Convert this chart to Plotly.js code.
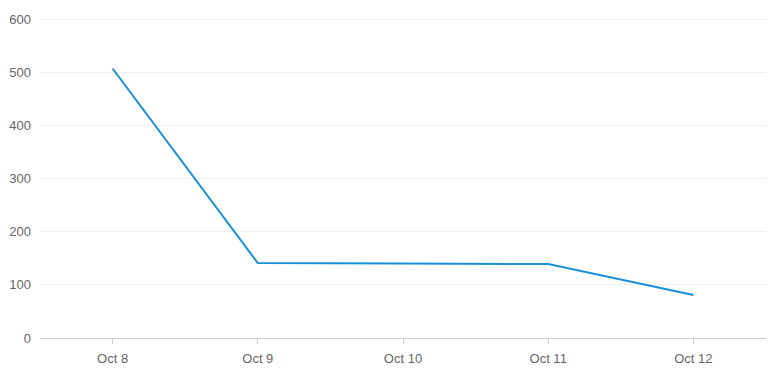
<!DOCTYPE html>
<html>
<head>
<meta charset="utf-8">
<script src="https://cdn.plot.ly/plotly-3.0.1.min.js"></script>
<style>html,body{margin:0;padding:0;background:#fff;}#chart{width:778px;height:386px;}</style>
</head>
<body>
<div id="chart"></div>
<script>
var categories = ["Oct 8", "Oct 9", "Oct 10", "Oct 11", "Oct 12"];
var values = [507, 141, 140, 139, 81];
var yTicks = [0, 100, 200, 300, 400, 500, 600];

Plotly.newPlot("chart", [{
  type: "scatter",
  mode: "lines",
  x: categories,
  y: values,
  line: {color: "#1890d8", width: 2},
  hoverinfo: "x+y"
}], {
  width: 778,
  height: 386,
  margin: {l: 40, r: 12, t: 18, b: 48},
  paper_bgcolor: "#fff",
  plot_bgcolor: "#fff",
  showlegend: false,
  font: {family: "Liberation Sans, Arial, sans-serif", size: 13, color: "#666"},
  xaxis: {
    type: "category",
    range: [-0.5, 4.5],
    showgrid: false,
    showline: true,
    linecolor: "#ccc",
    linewidth: 1,
    ticks: "outside",
    ticklen: 5,
    tickcolor: "#ccc",
    zeroline: false,
    ticklabelstandoff: 3,
    tickfont: {color: "#666", size: 13}
  },
  yaxis: {
    range: [0, 602],
    tickvals: yTicks,
    showgrid: true,
    gridcolor: "#eeeeee",
    gridwidth: 1,
    zeroline: false,
    showline: false,
    ticks: "",
    ticklabelstandoff: 8,
    tickfont: {color: "#666", size: 13}
  }
}, {displayModeBar: false, staticPlot: true});
</script>
</body>
</html>
